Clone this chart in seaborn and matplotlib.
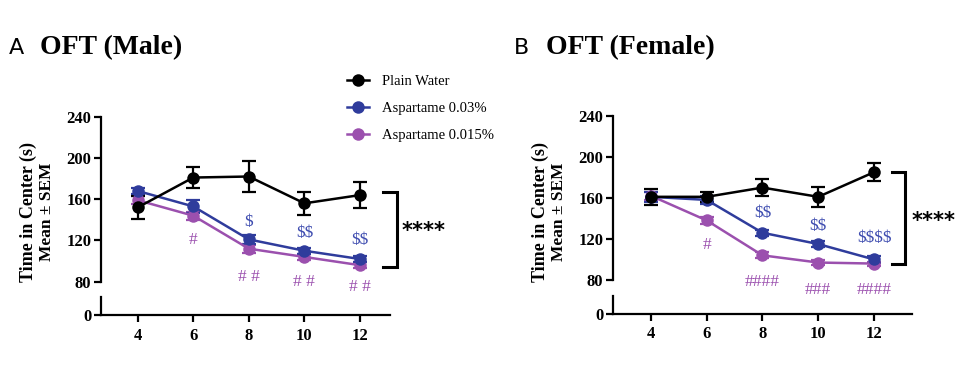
import matplotlib
matplotlib.use("Agg")
import matplotlib.pyplot as plt
import seaborn as sns
import pandas as pd
from matplotlib.lines import Line2D

weeks = [4, 6, 8, 10, 12]
groups = ["Plain Water", "Aspartame 0.03%", "Aspartame 0.015%"]

male_water = [152, 181, 182, 156, 164]
male_water_sem = [11, 10, 15, 11, 13]
male_asp03 = [168, 153, 121, 110, 102]
male_asp03_sem = [3, 6, 4, 3, 3]
male_asp015 = [159, 144, 112, 104, 96]
male_asp015_sem = [4, 4, 4, 3, 3]

female_water = [161, 161, 170, 161, 185]
female_water_sem = [8, 5, 8, 10, 9]
female_asp03 = [161, 158, 126, 115, 100]
female_asp03_sem = [5, 4, 3, 3, 3]
female_asp015 = [162, 138, 104, 97, 96]
female_asp015_sem = [4, 3, 3, 2, 2]

# significance marks (vs plain water)
male_dollar = ["", "", "$", "$$", "$$"]
male_dollar_y = [0, 0, 138, 127, 120]
male_hash = ["", "#", "# #", "# #", "# #"]
male_hash_y = [0, 120, 85, 80, 75]
female_dollar = ["", "", "$$", "$$", "$$$$"]
female_dollar_y = [0, 0, 145, 133, 121]
female_hash = ["", "#", "####", "###", "####"]
female_hash_y = [0, 114, 78, 70, 70]

colors = {"Plain Water": "#000000", "Aspartame 0.03%": "#2F3C9C", "Aspartame 0.015%": "#9B50AE"}
dollar_color = "#3F4DB0"
hash_color = "#9B50AE"

SERIF = "Liberation Serif"
W, H = 961, 377

fig = plt.figure(figsize=(W / 100, H / 100), dpi=100)


def px_axes(l, t, r, b):
    return fig.add_axes([l / W, 1 - b / H, (r - l) / W, (b - t) / H])


def draw_panel(top_box, bot_box, xlim, means, sems, dollars, dollar_y, hashes, hash_y,
               bracket_x, bracket_y, star_xy, letter, title, title_x, letter_x):
    ax = px_axes(*top_box)
    axb = px_axes(*bot_box)

    df = pd.DataFrame({
        "Week": weeks * 3,
        "Time": means[0] + means[1] + means[2],
        "Group": [g for g in groups for _ in weeks],
    })
    order = ["Aspartame 0.015%", "Aspartame 0.03%", "Plain Water"]
    sem_map = dict(zip(groups, sems))
    mean_map = dict(zip(groups, means))
    for g in order:
        ax.errorbar(weeks, mean_map[g], yerr=sem_map[g], fmt="none", ecolor=colors[g],
                    elinewidth=1.6, capsize=5, capthick=1.6, zorder=2, clip_on=False)
    sns.lineplot(data=df, x="Week", y="Time", hue="Group", hue_order=order,
                 palette=colors, marker="o", markersize=9, markeredgewidth=0,
                 linewidth=1.8, errorbar=None, legend=False, ax=ax, zorder=3)
    for ln in ax.lines:
        ln.set_clip_on(False)

    ax.set_xlim(*xlim)
    ax.set_ylim(80, 240)
    ax.set_yticks([80, 120, 160, 200, 240])
    ax.set_xticks([])
    ax.set_xlabel("")
    ax.set_ylabel("")
    for s in ["top", "right", "bottom"]:
        ax.spines[s].set_visible(False)
    ax.spines["left"].set_linewidth(1.6)
    ax.tick_params(axis="y", length=5, width=1.6, pad=2)
    for t in ax.get_yticklabels():
        t.set_fontfamily(SERIF)
        t.set_fontweight("bold")
        t.set_fontsize(12)

    axb.set_xlim(*xlim)
    axb.set_ylim(0, 10)
    axb.set_yticks([0])
    axb.set_xticks(weeks)
    axb.set_xticklabels([str(w) for w in weeks])
    for s in ["top", "right"]:
        axb.spines[s].set_visible(False)
    for s in ["left", "bottom"]:
        axb.spines[s].set_linewidth(1.6)
    axb.tick_params(axis="y", length=5, width=1.6, pad=2)
    axb.tick_params(axis="x", length=5, width=1.6, pad=4)
    for t in axb.get_yticklabels() + axb.get_xticklabels():
        t.set_fontfamily(SERIF)
        t.set_fontweight("bold")
        t.set_fontsize(12)
    axb.patch.set_alpha(0)
    ax.patch.set_alpha(0)

    for w, s, y in zip(weeks, dollars, dollar_y):
        if s:
            ax.text(w, y, s, color=dollar_color, ha="center", va="center", fontsize=12.5,
                    family=SERIF, parse_math=False, clip_on=False)
    for w, s, y in zip(weeks, hashes, hash_y):
        if s:
            ax.text(w, y, s, color=hash_color, ha="center", va="center", fontsize=12.5,
                    family=SERIF, parse_math=False, clip_on=False)

    x0, x1 = bracket_x
    y0, y1 = bracket_y
    ax.plot([x0, x1, x1, x0], [y0, y0, y1, y1], color="black", lw=2.2,
            clip_on=False, solid_joinstyle="miter")
    ax.text(star_xy[0], star_xy[1], "****", ha="left", va="center", fontsize=15,
            fontweight="bold", family="DejaVu Sans", clip_on=False)

    lab_x = top_box[0]
    fig.text((lab_x - 73) / W, 1 - 212 / H, "Time in Center (s)", rotation=90, ha="center",
             va="center", family=SERIF, fontweight="bold", fontsize=13)
    fig.text((lab_x - 54) / W, 1 - 212 / H, "Mean ± SEM", rotation=90, ha="center",
             va="center", family=SERIF, fontweight="bold", fontsize=12.5)

    fig.text(letter_x / W, 1 - 48 / H, letter, ha="left", va="center", fontsize=16,
             family="DejaVu Sans")
    fig.text(title_x / W, 1 - 48 / H, title, ha="left", va="center", fontsize=20,
             family=SERIF, fontweight="bold")


draw_panel((101, 116.7, 390, 281.7), (101, 296.7, 390, 315), (2.68, 13.08),
           [male_water, male_asp03, male_asp015],
           [male_water_sem, male_asp03_sem, male_asp015_sem],
           male_dollar, male_dollar_y, male_hash, male_hash_y,
           (12.82, 13.33), (167, 94), (13.5, 129), "A", "OFT (Male)", 40, 9)

draw_panel((613, 115.7, 911.7, 280), (613, 296, 911.7, 314), (2.64, 13.35),
           [female_water, female_asp03, female_asp015],
           [female_water_sem, female_asp03_sem, female_asp015_sem],
           female_dollar, female_dollar_y, female_hash, female_hash_y,
           (12.63, 13.1), (185.5, 95.3), (13.36, 137), "B", "OFT (Female)", 546, 514)

handles = [Line2D([0], [0], color=colors[g], marker="o", markersize=9, markeredgewidth=0,
                  lw=1.8) for g in groups]
fig.legend(handles, groups, loc="upper left", bbox_to_anchor=(347 / W, 1 - 75 / H),
           frameon=False, handlelength=1.5, handletextpad=0.9, labelspacing=0.95,
           prop={"family": SERIF, "size": 10.5}, borderaxespad=0, borderpad=0)

fig.savefig("out.png", dpi=100)
